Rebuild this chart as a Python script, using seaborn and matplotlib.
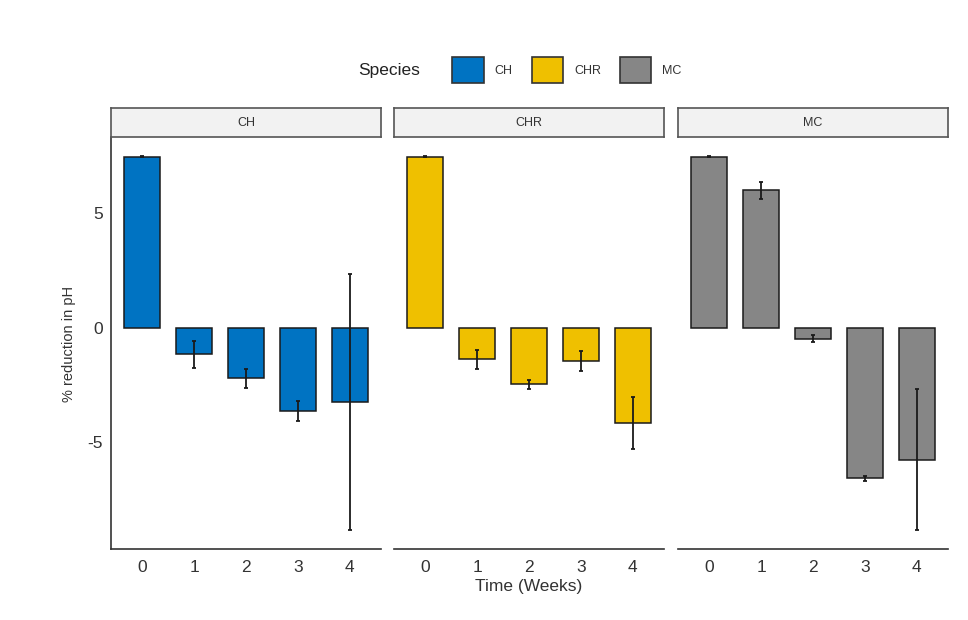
import pandas as pd
import matplotlib.pyplot as plt
import seaborn as sns
from matplotlib.patches import Patch

# =========================
# Data
# =========================
weeks = ["0", "1", "2", "3", "4"]
species = ["CH", "CHR", "MC"]

ch_mean = [7.48, -1.17, -2.22, -3.64, -3.26]
ch_err = [0.03, 0.60, 0.42, 0.42, 5.60]
chr_mean = [7.48, -1.38, -2.48, -1.46, -4.17]
chr_err = [0.03, 0.42, 0.20, 0.43, 1.12]
mc_mean = [7.48, 6.01, -0.48, -6.59, -5.77]
mc_err = [0.03, 0.37, 0.15, 0.10, 3.07]

palette = {"CH": "#0073C2", "CHR": "#EFC000", "MC": "#868686"}

data = pd.DataFrame({
    "Species": [s for s in species for _ in weeks],
    "Week": weeks * 3,
    "Reduction": ch_mean + chr_mean + mc_mean,
    "SE": ch_err + chr_err + mc_err,
})

sns.set_style("white")
plt.rcParams["font.family"] = ["Liberation Sans", "DejaVu Sans"]
plt.rcParams["axes.unicode_minus"] = False

fig = plt.figure(figsize=(9.68, 6.2), dpi=100)

# panel geometry in figure fraction
lefts = [111 / 968, 394 / 968, 678 / 968]
pw = 270 / 968
pb = (620 - 549) / 620
ph = 411 / 620
sb = (620 - 137) / 620
sh = 29 / 620

for i, sp in enumerate(species):
    ax = fig.add_axes([lefts[i], pb, pw, ph])
    sub = data[data["Species"] == sp]
    sns.barplot(ax=ax, data=sub, x="Week", y="Reduction", order=weeks,
                color=palette[sp], width=0.7, edgecolor="#1a1a1a",
                linewidth=1.1, errorbar=None, saturation=1)
    ax.errorbar(range(len(weeks)), sub["Reduction"], yerr=sub["SE"],
                fmt="none", ecolor="#1a1a1a", elinewidth=1.3, capsize=1.5,
                capthick=1.3)
    ax.set_xlim(-0.6, 4.6)
    ax.set_ylim(-9.68, 8.3)
    ax.set_yticks([-5, 0, 5])
    ax.set_xlabel("")
    ax.set_ylabel("")
    ax.tick_params(axis="both", length=3, color="#333333", width=0.8,
                   labelsize=12.5, labelcolor="#333333", pad=3)
    ax.tick_params(axis="x", pad=5)
    for s in ["top", "right"]:
        ax.spines[s].set_visible(False)
    ax.spines["bottom"].set_color("#333333")
    ax.spines["bottom"].set_linewidth(1.2)
    if i == 0:
        ax.spines["left"].set_color("#333333")
        ax.spines["left"].set_linewidth(1.2)
        ax.set_ylabel("% reduction in pH", fontsize=10.5, color="#333333",
                      labelpad=8)
    else:
        ax.spines["left"].set_visible(False)
        ax.tick_params(axis="y", left=False, labelleft=False)
    if i == 1:
        ax.set_xlabel("Time (Weeks)", fontsize=12.5, color="#333333", labelpad=3)

    # facet strip
    st = fig.add_axes([lefts[i], sb, pw, sh])
    st.set_facecolor("#f2f2f2")
    st.set_xticks([])
    st.set_yticks([])
    for s in st.spines.values():
        s.set_color("#555555")
        s.set_linewidth(1.2)
    st.text(0.5, 0.5, sp, ha="center", va="center", fontsize=9, color="#333333",
            transform=st.transAxes)

# legend on top
handles = [Patch(facecolor=palette[s], edgecolor="#333333", linewidth=1.2) for s in species]
fig.text(358 / 968, 1 - 70 / 620, "Species", fontsize=12.5, color="#222222",
         va="center", ha="left")
fig.legend(handles, species, loc="center left", bbox_to_anchor=(441 / 968, 1 - 70 / 620),
           ncol=3, frameon=False, fontsize=9, handlelength=2.5, handleheight=2.8,
           columnspacing=1.5, handletextpad=0.9, labelcolor="#333333")

plt.savefig("out.png", dpi=100)
